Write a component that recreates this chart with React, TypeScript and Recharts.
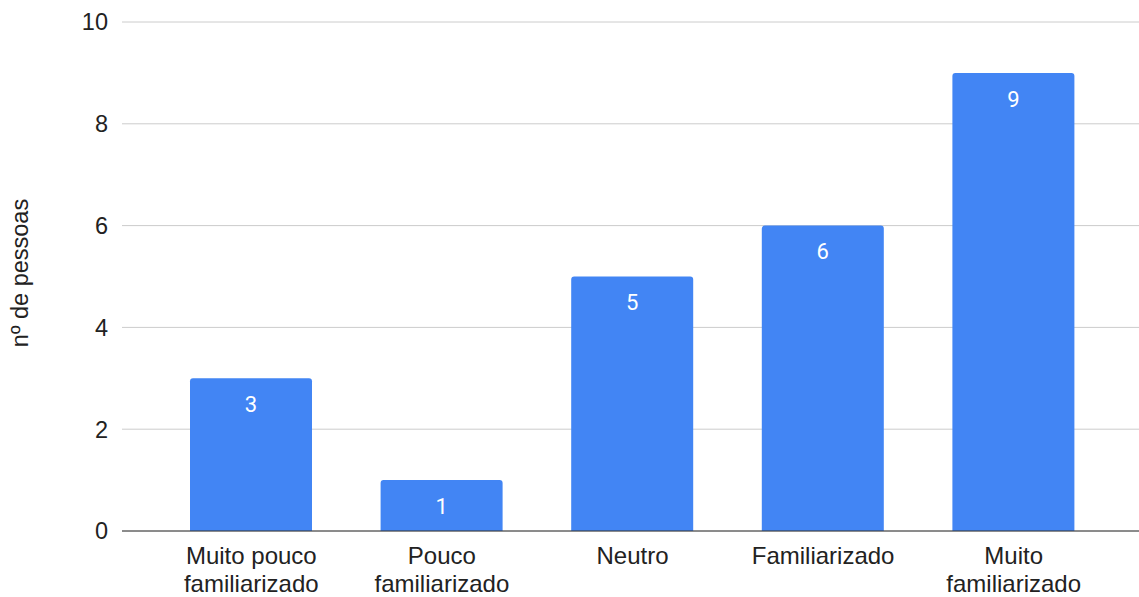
import React from 'react';
import { BarChart, Bar, XAxis, YAxis, CartesianGrid, LabelList } from 'recharts';

const categories = ['Muito pouco\nfamiliarizado', 'Pouco\nfamiliarizado', 'Neutro', 'Familiarizado', 'Muito\nfamiliarizado'];
const pessoas = [3, 1, 5, 6, 9];
const yTicks = [0, 2, 4, 6, 8, 10];

const data = categories.map((name, i) => ({ name, pessoas: pessoas[i] }));

const FONT = '"Liberation Sans", Arial, sans-serif';

function CategoryTick(props: any) {
  const { x, y, payload } = props;
  const lines = String(payload.value).split('\n');
  return (
    <text x={x} y={y} textAnchor="middle" fontSize={24} fontFamily={FONT} fill="#222">
      {lines.map((line, i) => (
        <tspan key={i} x={x} dy={i === 0 ? 33 : 28}>{line}</tspan>
      ))}
    </text>
  );
}

function YTitle() {
  const cx = 28;
  const cy = 273;
  return (
    <text x={cx} y={cy} transform={`rotate(-90 ${cx} ${cy})`} textAnchor="middle" fontSize={23.5} fontFamily={FONT} fill="#222">
      nº de pessoas
    </text>
  );
}

export default function App() {
  return (
    <div style={{ position: 'absolute', left: 0, top: 0, background: '#fff' }}>
      <BarChart width={1139} height={597} data={data} margin={{ top: 22, right: 0, left: 0, bottom: 0 }} barSize={122}>
        <CartesianGrid vertical={false} stroke="#cccccc" />
        <XAxis
          dataKey="name"
          interval={0}
          padding={{ left: 34, right: 30 }}
          tickLine={false}
          tickSize={0}
          tickMargin={0}
          axisLine={{ stroke: '#333333' }}
          tick={<CategoryTick />}
          height={66}
        />
        <YAxis
          width={122}
          domain={[0, 10]}
          ticks={yTicks}
          axisLine={false}
          tickLine={false}
          tickSize={0}
          tickMargin={14}
          tick={{ fontSize: 23.5, fontFamily: FONT, fill: '#222' }}
          label={{ content: <YTitle /> }}
        />
        <Bar dataKey="pessoas" fill="#4285f4" radius={[3, 3, 0, 0]} isAnimationActive={false}>
          <LabelList dataKey="pessoas" position="insideTop" offset={18} fill="#ffffff" fontSize={22} fontFamily="Roboto, sans-serif" />
        </Bar>
      </BarChart>
    </div>
  );
}
